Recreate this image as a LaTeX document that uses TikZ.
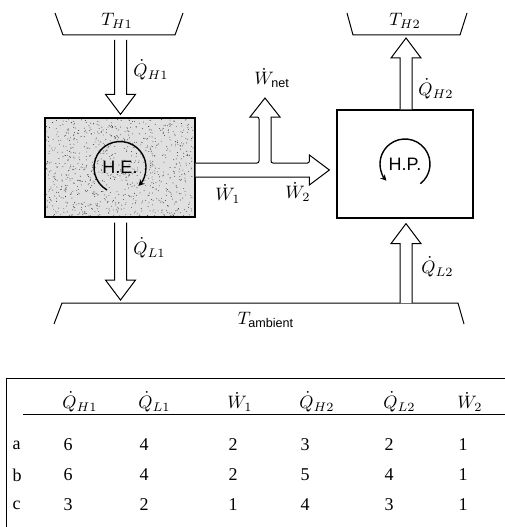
\documentclass[tikz,border=0pt]{standalone}
\usepackage{amsmath}
\usepackage{fontspec}
\setmainfont{Liberation Serif}
\setsansfont{Liberation Sans}
\usetikzlibrary{calc,arrows.meta}

% hollow block arrow from #1 to #2 (tail left open)
\newcommand{\flowarrow}[2]{%
  \draw[flow] ($(#1)!6pt!90:(#2)$)
    -- ($(#2)!20pt!(#1)!6pt!-90:(#1)$)
    -- ($(#2)!20pt!(#1)!15pt!-90:(#1)$)
    -- (#2)
    -- ($(#2)!20pt!(#1)!15pt!90:(#1)$)
    -- ($(#2)!20pt!(#1)!6pt!90:(#1)$)
    -- ($(#1)!6pt!-90:(#2)$);}

\begin{document}
\begin{tikzpicture}[x=1pt, y=1pt,
    reservoir/.style={line width=1pt},
    engine/.style={draw, line width=1.2pt, minimum width=150pt, minimum height=99pt,
      font=\fontsize{18}{20}\selectfont\sffamily},
    flow/.style={line width=1pt, fill=white},
    spin/.style={line width=1.4pt, -{Stealth[length=6pt,width=6pt]}},
    lbl/.style={scale=1.8},
    cell/.style={anchor=west, font=\fontsize{18}{20}\selectfont}]
  \useasboundingbox (0,0) rectangle (505,-527);

  % reservoirs
  \draw[reservoir] (55,-13) -- (63,-35) -- (175,-35) -- (183,-13);
  \draw[reservoir] (347,-13) -- (353,-35) -- (460,-35) -- (467,-13);
  \draw[reservoir] (54,-324) -- (62,-303) -- (458,-303) -- (464,-324);
  \node[lbl] (th1) at (117,-21) {$T_{H1}$};
  \node[lbl] (th2) at (405,-21) {$T_{H2}$};
  \node[lbl] (tamb) at (266,-320) {$T_{\textsf{ambient}}$};
  \coordinate (th1b) at (120.5,-35);
  \coordinate (th2b) at (406,-35);
  \coordinate (amb1) at (120.5,-303);
  \coordinate (amb2) at (406,-303);

  % engine (stippled) and heat pump
  \node[engine, fill=black!12] (he-bg) at (120,-167.5) {};
  \pgfmathsetseed{7}
  \foreach \i in {1,...,900}
    \fill[black!80] ($(he-bg.south west)+({1+rnd*148},{1+rnd*97})$) circle (0.45pt);
  \node[engine] (he) at (he-bg) {H.E.};
  \node[engine, fill=white, minimum width=136pt, minimum height=108pt] (hp) at (405,-164) {H.P.};
  \draw[spin] ($(he.center)+(240:26pt)$) arc[start angle=240, end angle=-45, radius=26pt];
  \draw[spin] ($(hp.center)+(-52:25pt)$) arc[start angle=-52, end angle=222, radius=25pt];

  % heat flows
  \coordinate (qh1a) at ($(th1b)+(0,-5)$);
  \coordinate (qh1b) at ($(he.north)+(0.5,3)$);
  \coordinate (ql1a) at ($(he.south)+(0.5,-5)$);
  \coordinate (ql1b) at ($(amb1)+(0,3)$);
  \coordinate (qh2a) at ($(hp.north)+(1,0)$);
  \coordinate (qh2b) at ($(th2b)+(0,-3)$);
  \coordinate (ql2b) at ($(hp.south)+(1,-5)$);
  \flowarrow{qh1a}{qh1b}
  \flowarrow{ql1a}{ql1b}
  \flowarrow{qh2a}{qh2b}
  \flowarrow{amb2}{ql2b}

  % work split
  \coordinate (wsplit) at (265,-170);
  \coordinate (wnet) at (265,-98);
  \coordinate (wtip) at ($(hp.west |- wsplit)+(-7,0)$);
  \draw[flow] ($(he.east |- wsplit)+(0,7)$) [rounded corners=2pt]
    -- ($(wsplit)+(-6,7)$) -- ($(wnet)+(-6,-19)$) [sharp corners]
    -- ($(wnet)+(-15,-19)$) -- (wnet) -- ($(wnet)+(15,-19)$)
    -- ($(wnet)+(6,-19)$) [rounded corners=2pt]
    -- ($(wsplit)+(6,7)$) -- ($(wtip)+(-20,7)$) [sharp corners]
    -- ($(wtip)+(-20,15)$) -- (wtip) -- ($(wtip)+(-20,-15)$)
    -- ($(wtip)+(-20,-7)$) -- ($(he.east |- wsplit)+(0,-7)$);

  % labels
  \node[lbl, anchor=west] (lqh1) at (127,-70) {$\dot Q_{H1}$};
  \node[lbl, anchor=west] (lql1) at (127,-248) {$\dot Q_{L1}$};
  \node[lbl] (lwnet) at (272,-78) {$\dot W_{\textsf{net}}$};
  \node[lbl] (lw1) at (228,-194) {$\dot W_1$};
  \node[lbl] (lw2) at (298,-192) {$\dot W_2$};
  \node[lbl, anchor=west] (lqh2) at (412,-89) {$\dot Q_{H2}$};
  \node[lbl, anchor=west] (lql2) at (415,-267) {$\dot Q_{L2}$};

  % table
  \draw[line width=1pt] (505,-378) -- (6,-378) -- (6,-527);
  \draw[line width=0.8pt] (23,-414) -- (505,-414);
  \foreach \r/\y in {a/445, b/475, c/505}
    \node[cell] (row-\r) at (9,-\y) {\r};
  \foreach \x/\h/\va/\vb/\vc [count=\k] in {60/{\dot Q_{H1}}/6/6/3, 136/{\dot Q_{L1}}/4/4/2,
      225/{\dot W_1}/2/2/1, 297/{\dot Q_{H2}}/3/5/4, 381/{\dot Q_{L2}}/2/4/3, 455/{\dot W_2}/1/1/1} {
    \node[lbl, anchor=west] (h\k) at (\x-4,-402) {$\h$};
    \node[cell] (a\k) at (\x,-445) {\va};
    \node[cell] (b\k) at (\x,-475) {\vb};
    \node[cell] (c\k) at (\x,-505) {\vc};
  }
\end{tikzpicture}
\end{document}
